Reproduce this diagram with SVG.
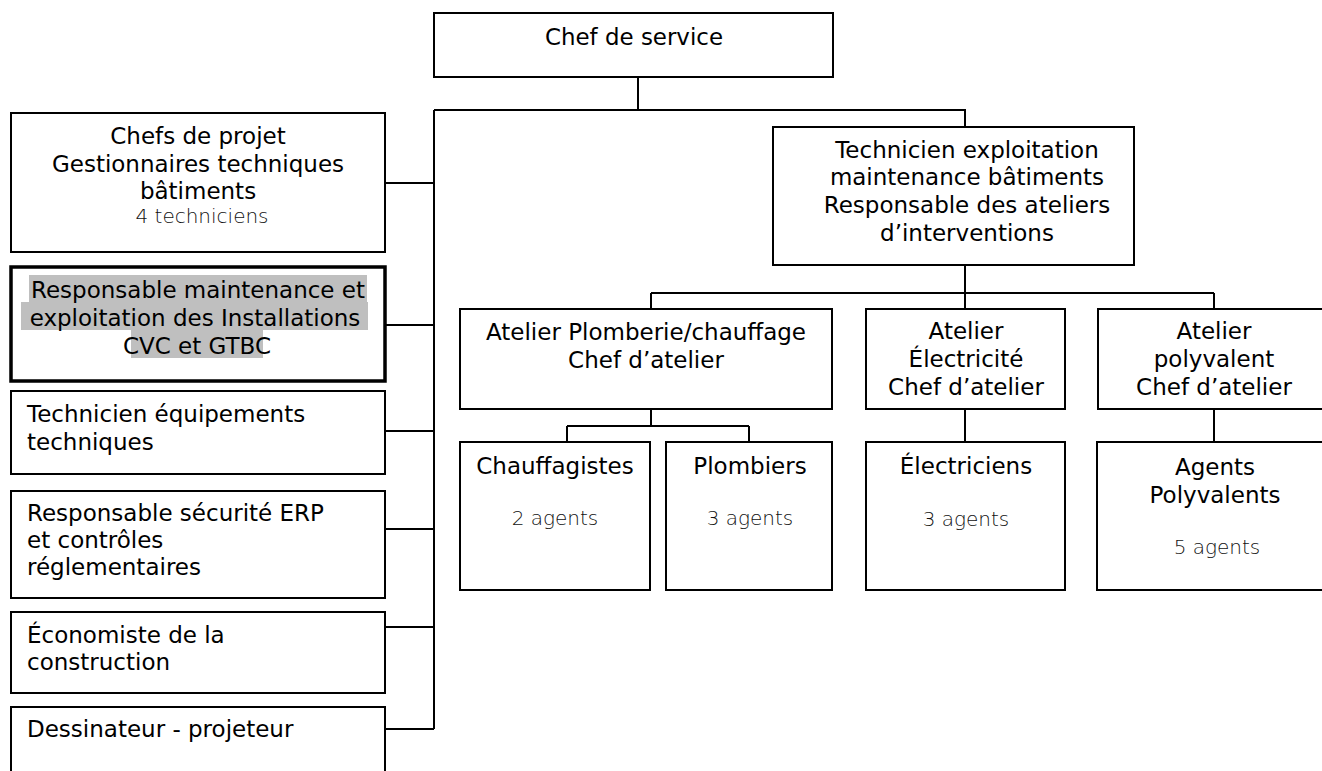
<svg xmlns="http://www.w3.org/2000/svg" width="1322" height="771" viewBox="0 0 1322 771">
<style>
.box{fill:#fff;stroke:#000;stroke-width:2}
.thick{fill:#fff;stroke:#000;stroke-width:3.5}
.t{font-family:"DejaVu Sans","Liberation Sans",sans-serif;font-size:23px;fill:#000}
.c{text-anchor:middle}
.s{font-family:"DejaVu Sans","Liberation Sans",sans-serif;font-size:20px;font-weight:300;fill:#111;text-anchor:middle}
.hl{fill:#bfbfbf}
.ln{fill:none;stroke:#000;stroke-width:2}
</style>
<rect width="1322" height="771" fill="#fff"/>
<g id="connectors">
<path class="ln" d="M638,77 V110 M434,110 H965 V127 M434,110 V729"/>
<path class="ln" d="M385,183 H434 M385,325 H434 M385,431 H434 M385,529 H434 M385,627 H434 M385,729 H434"/>
<path class="ln" d="M965,265 V293 M651,293 H1214 M651,293 V309 M965,293 V309 M1214,293 V309"/>
<path class="ln" d="M651,409 V426 M567,426 H749 M567,426 V442 M749,426 V442"/>
<path class="ln" d="M965,409 V442 M1214,409 V442"/>
</g>
<g id="chef-service">
<rect class="box" x="434" y="13" width="399" height="64"/>
<text class="t c" x="634" y="45" textLength="178" lengthAdjust="spacingAndGlyphs">Chef de service</text>
</g>
<g id="chefs-projet">
<rect class="box" x="11" y="113" width="374" height="139"/>
<text class="t c" x="198" y="144">Chefs de projet</text>
<text class="t c" x="198" y="172">Gestionnaires techniques</text>
<text class="t c" x="198" y="199">bâtiments</text>
<text class="s" x="202" y="223">4 techniciens</text>
</g>
<g id="resp-cvc">
<rect class="thick" x="11" y="267" width="374" height="114"/>
<rect class="hl" x="29" y="275" width="338" height="27"/>
<rect class="hl" x="21" y="302" width="347" height="28"/>
<rect class="hl" x="131" y="330" width="132" height="28"/>
<text class="t c" x="198" y="298">Responsable maintenance et</text>
<text class="t c" x="195" y="326">exploitation des Installations</text>
<text class="t c" x="197" y="354">CVC et GTBC</text>
</g>
<g id="tech-equip">
<rect class="box" x="11" y="391" width="374" height="83"/>
<text class="t" x="27" y="422">Technicien équipements</text>
<text class="t" x="27" y="450">techniques</text>
</g>
<g id="resp-securite">
<rect class="box" x="11" y="491" width="374" height="107"/>
<text class="t" x="27" y="521">Responsable sécurité ERP</text>
<text class="t" x="27" y="548">et contrôles</text>
<text class="t" x="27" y="575">réglementaires</text>
</g>
<g id="economiste">
<rect class="box" x="11" y="612" width="374" height="81"/>
<text class="t" x="27" y="643">Économiste de la</text>
<text class="t" x="27" y="670">construction</text>
</g>
<g id="dessinateur">
<rect class="box" x="11" y="707" width="374" height="80"/>
<text class="t" x="27" y="737">Dessinateur - projeteur</text>
</g>
<g id="technicien-exploitation">
<rect class="box" x="773" y="127" width="361" height="138"/>
<text class="t c" x="967" y="158">Technicien exploitation</text>
<text class="t c" x="967" y="185">maintenance bâtiments</text>
<text class="t c" x="967" y="213">Responsable des ateliers</text>
<text class="t c" x="967" y="241">d’interventions</text>
</g>
<g id="atelier-plomberie">
<rect class="box" x="460" y="309" width="372" height="100"/>
<text class="t c" x="646" y="340">Atelier Plomberie/chauffage</text>
<text class="t c" x="646" y="368">Chef d’atelier</text>
</g>
<g id="atelier-electricite">
<rect class="box" x="866" y="309" width="199" height="100"/>
<text class="t c" x="966" y="339">Atelier</text>
<text class="t c" x="966" y="367">Électricité</text>
<text class="t c" x="966" y="395">Chef d’atelier</text>
</g>
<g id="atelier-polyvalent">
<rect class="box" x="1098" y="309" width="240" height="100"/>
<text class="t c" x="1214" y="339">Atelier</text>
<text class="t c" x="1214" y="367">polyvalent</text>
<text class="t c" x="1214" y="395">Chef d’atelier</text>
</g>
<g id="chauffagistes">
<rect class="box" x="460" y="442" width="190" height="148"/>
<text class="t c" x="555" y="474">Chauffagistes</text>
<text class="s" x="555" y="525">2 agents</text>
</g>
<g id="plombiers">
<rect class="box" x="666" y="442" width="166" height="148"/>
<text class="t c" x="750" y="474">Plombiers</text>
<text class="s" x="750" y="525">3 agents</text>
</g>
<g id="electriciens">
<rect class="box" x="866" y="442" width="199" height="148"/>
<text class="t c" x="966" y="474">Électriciens</text>
<text class="s" x="966" y="526">3 agents</text>
</g>
<g id="agents-polyvalents">
<rect class="box" x="1097" y="442" width="240" height="148"/>
<text class="t c" x="1215" y="475">Agents</text>
<text class="t c" x="1215" y="503">Polyvalents</text>
<text class="s" x="1217" y="554">5 agents</text>
</g>
</svg>
